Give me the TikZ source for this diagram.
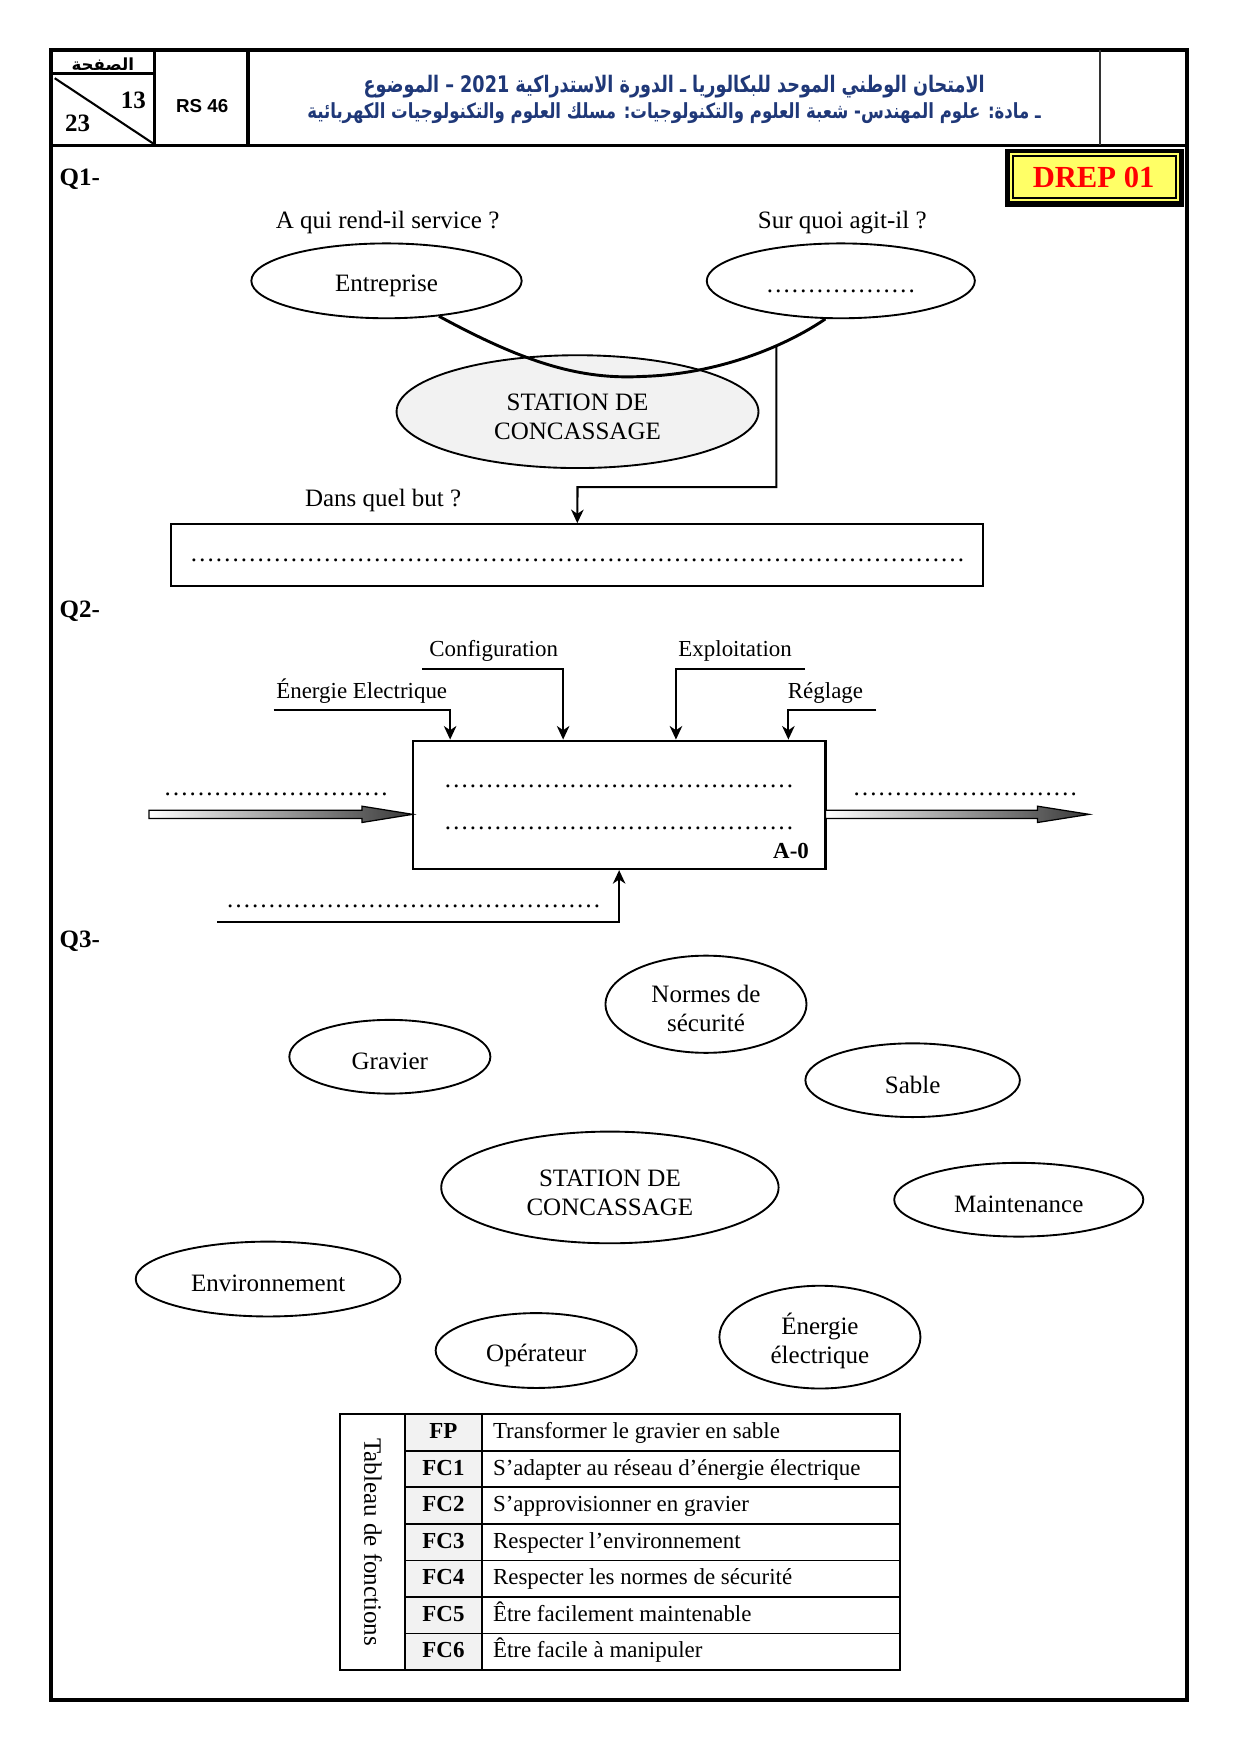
\documentclass[tikz,border=0pt]{standalone}
\usepackage{fontspec}
\setmainfont{Liberation Serif}
\newfontfamily\arabicfont[Script=Arabic]{DejaVu Sans}
\newfontfamily\arialfont{Liberation Sans}
\TeXXeTstate=1
\usetikzlibrary{shapes.geometric,arrows.meta,calc}
\definecolor{arblue}{RGB}{31,56,120}
\definecolor{lgray}{RGB}{242,242,242}
\definecolor{dyellow}{RGB}{255,255,102}
\newcommand\ftw{\fontsize{12}{14}\selectfont}
\newcommand\fel{\fontsize{11}{13}\selectfont}
\newcommand\dts[1]{\foreach \i in {1,...,#1}{…}}
\begin{document}
\begin{tikzpicture}[x=0.536pt,y=-0.536pt,
  txt/.style={inner sep=0pt, font=\ftw},
  ell/.style={ellipse, draw, line width=0.9pt, inner sep=0pt, fill=white},
  etxt/.style={inner sep=0pt, align=center, font=\ftw},
  ellsize/.style 2 args={minimum width=#1*0.536pt, minimum height=#2*0.536pt},
  arr/.style={line width=1pt, -{Stealth[length=6.5pt, width=6pt, inset=2pt]}},
  qlab/.style={inner sep=0pt, anchor=base west, font=\ftw\bfseries},
  lab/.style={inner sep=0pt, anchor=base west, font=\fel},
  dotsn/.style={inner sep=0pt, anchor=base west, font=\ftw},
  bigarrow/.style={left color=white, right color=black!78, draw=black, line width=0.6pt}
]
\useasboundingbox (0,0) rectangle (1110,1570.2);

% ---------- frame and header ----------
\draw[line width=1.9pt] (46,45) rectangle (1063,1522);
\draw[line width=1.5pt] (46,130) -- (1063,130);
\draw[line width=1.5pt] (138,45) -- (138,130);
\draw[line width=1.5pt] (222,45) -- (222,130);
\draw[line width=1pt, black!80] (985,45) -- (985,130);
\draw[line width=1.5pt] (46,66) -- (138,66);
\draw[line width=1pt] (49,70) -- (138,129);
\node[inner sep=0pt, font=\arabicfont\bfseries\fontsize{8}{9}\selectfont] (pg) at (92,57) {\beginR الصفحة\endR};
\node[inner sep=0pt, anchor=base east, font=\ftw\bfseries] (n13) at (131,97) {13};
\node[inner sep=0pt, anchor=base west, font=\ftw\bfseries] (n23) at (58,118) {23};
\node[inner sep=0pt, font=\arialfont\bfseries\fontsize{9}{10}\selectfont] (rs) at (181,95) {RS 46};
\node[inner sep=0pt, text=arblue, anchor=base] (ar1) at (603.5,83) {\resizebox{298pt}{8.3pt}{\arabicfont\bfseries\fontsize{12}{14}\selectfont\beginR الامتحان الوطني الموحد للبكالوريا ـ الدورة الاستدراكية \beginL 2021\endL{} – الموضوع\endR}};
\node[inner sep=0pt, text=arblue, anchor=base] (ar2) at (603.5,106) {\resizebox{352pt}{7.6pt}{\arabicfont\bfseries\fontsize{12}{14}\selectfont\beginR ـ مادة: علوم المهندس- شعبة العلوم والتكنولوجيات: مسلك العلوم والتكنولوجيات الكهربائية\endR}};

% ---------- DREP ----------
\fill[black] (900,133) rectangle (1060,185);
\fill[dyellow] (904,137) rectangle (1055,180);
\draw[line width=0.9pt, fill=dyellow] (906.5,139.5) rectangle (1052.5,177.5);
\node[inner sep=0pt, text=red, font=\fontsize{14.7}{16}\selectfont\bfseries] (drep) at (979,158.5) {DREP 01};

% ---------- Q1 ----------
\node[qlab] (q1) at (53,166) {Q1-};
\node[txt] (l1) at (347,199) {A qui rend-il service ?};
\node[txt] (l2) at (754,199) {Sur quoi agit-il ?};
\node[ell, ellsize={242}{67}] (ent) at (346,251.4) {};
\node[etxt] (entt) at ([yshift=-2.4pt]ent.center) {Entreprise};
\node[ell, ellsize={240}{67}] (obj) at (752.7,251.4) {};
\node[inner sep=0pt, anchor=base, font=\ftw] (objt) at (752.7,261.5) {\dts{6}};
\node[ell, ellsize={324}{101}, fill=lgray] (st) at (517,368.5) {};
\node[etxt] (stt) at ([yshift=-2.6pt]st.center) {STATION DE\\CONCASSAGE};
\draw[line width=1.4pt] (ent.-34) .. controls (470,325) and (520,340) .. (575,337) .. controls (640,335) and (700,312) .. (obj.-112);
\coordinate (j) at (695,310);
\coordinate (k) at (517,436);
\node[txt] (l3) at (343,448) {Dans quel but ?};
\node[draw, line width=1pt, inner sep=0pt, minimum width=727*0.536pt, minimum height=55*0.536pt] (but) at (516.8,496.8) {};
\node[inner sep=0pt, anchor=base, font=\ftw] (butd) at (517,503) {\dts{31}};
\draw[arr] (j) |- (k) -- (but.north);

% ---------- Q2 ----------
\node[qlab] (q2) at (53,553) {Q2-};
\node[draw, line width=1pt, inner sep=0pt, minimum width=369.5*0.536pt, minimum height=115*0.536pt] (a0) at (554.25,720.5) {};
\node[dotsn] (d1) at (397,705) {\dts{14}};
\node[dotsn] (d2) at (397,743) {\dts{14}};
\node[inner sep=0pt, anchor=base east, font=\fel\bfseries] (a0l) at (724.5,768.5) {A-0};

\node[lab] (t1) at (247,625) {Énergie Electrique};
\node[lab] (t2) at (384,588) {Configuration};
\node[lab] (t3) at (607,588) {Exploitation};
\node[lab] (t4) at (705,625.5) {Réglage};
\coordinate (ee) at (245,635.6);
\coordinate (cf) at (378,599);
\coordinate (ex) at (720.7,599);
\coordinate (rg) at (784.5,635.6);
\coordinate (me) at (194.7,825.7);
\draw[arr] (ee) -| ($(a0.north west)!0.0926!(a0.north east)$);
\draw[arr] (cf) -| ($(a0.north west)!0.365!(a0.north east)$);
\draw[arr] (ex) -| ($(a0.north west)!0.637!(a0.north east)$);
\draw[arr] (rg) -| ($(a0.north west)!0.908!(a0.north east)$);
\draw[arr] (me) -| (a0.south);

\shade[bigarrow] (133.4,725.3) -- (324,725.3) -- (324,721.7) -- (369.5,729) -- (324,736.3) -- (324,732.7) -- (133.4,732.7) -- cycle;
\shade[bigarrow] (739,725.3) -- (928.8,725.3) -- (928.8,721.7) -- (975,729) -- (928.8,736.3) -- (928.8,732.7) -- (739,732.7) -- cycle;
\node[dotsn] (din) at (146,712) {\dts{9}};
\node[dotsn] (dout) at (763,712) {\dts{9}};
\node[dotsn] (dme) at (202,812.5) {\dts{15}};

% ---------- Q3 ----------
\node[qlab] (q3) at (53,848) {Q3-};
\node[ell, ellsize={180}{87}] (norm) at (632,899) {};
\node[etxt] (normt) at ([yshift=-2.2pt]norm.center) {Normes de\\sécurité};
\node[ell, ellsize={180}{66}] (grav) at (349,946) {};
\node[etxt] (gravt) at ([yshift=-2.2pt]grav.center) {Gravier};
\node[ell, ellsize={192}{66}] (sable) at (817,967) {};
\node[etxt] (sablet) at ([yshift=-2.2pt]sable.center) {Sable};
\node[ell, ellsize={302}{100}] (st2) at (546,1063) {};
\node[etxt] (st2t) at ([yshift=-2.6pt]st2.center) {STATION DE\\CONCASSAGE};
\node[ell, ellsize={223}{66}] (maint) at (912,1074) {};
\node[etxt] (maintt) at ([yshift=-2.2pt]maint.center) {Maintenance};
\node[ell, ellsize={237}{67}] (env) at (240,1145) {};
\node[etxt] (envt) at ([yshift=-2.2pt]env.center) {Environnement};
\node[ell, ellsize={180}{67}] (oper) at (480,1209) {};
\node[etxt] (opert) at ([yshift=-2.2pt]oper.center) {Opérateur};
\node[ell, ellsize={180}{92}] (energ) at (734,1197) {};
\node[etxt] (energt) at ([yshift=-1.8pt]energ.center) {Énergie\\électrique};

% ---------- table ----------
\fill[lgray] (362.6,1266) rectangle (431.2,1495);
\foreach \r in {1,...,6}{
  \draw[line width=0.8pt] (362.6,{1266+\r*32.714}) -- (805.7,{1266+\r*32.714});
}
\draw[line width=1pt] (362.6,1266) -- (362.6,1495);
\draw[line width=1pt] (431.2,1266) -- (431.2,1495);
\draw[line width=1.2pt] (304.4,1266) rectangle (805.7,1495);
\node[inner sep=0pt, rotate=-90, font=\ftw] (tt) at (334,1380.5) {Tableau de fonctions};
\foreach \c/\t [count=\i] in {FP/Transformer le gravier en sable,
  FC1/S’adapter au réseau d’énergie électrique,
  FC2/S’approvisionner en gravier,
  FC3/Respecter l’environnement,
  FC4/Respecter les normes de sécurité,
  FC5/Être facilement maintenable,
  FC6/Être facile à manipuler}{
  \pgfmathsetmacro\yy{1266+(\i-0.5)*32.714}
  \node[inner sep=0pt, font=\fel\bfseries, text height=8pt, text depth=2pt] (c\i) at (397,\yy) {\c};
  \node[inner sep=0pt, anchor=west, font=\fel, text height=8pt, text depth=2pt] (d\i) at (441,\yy) {\t};
}
\end{tikzpicture}
\end{document}
